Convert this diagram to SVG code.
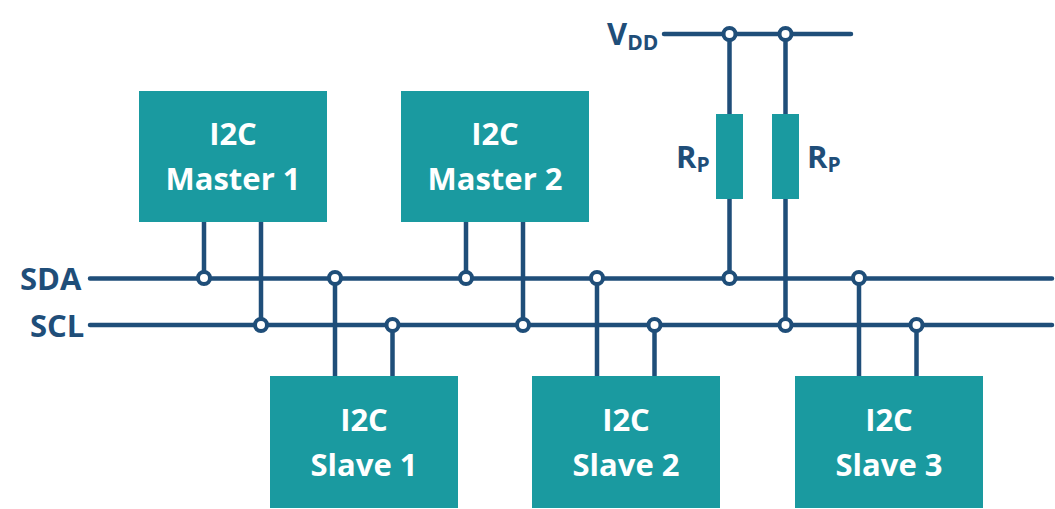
<svg xmlns="http://www.w3.org/2000/svg" width="1055" height="509" viewBox="0 0 1055 509">
<style>
.box{fill:#1a9aa0}
.wire{fill:none;stroke:#1f4e79;stroke-width:4.500;stroke-linecap:round}
.stub{fill:none;stroke:#1f4e79;stroke-width:4.500}
.dot{fill:#fff;stroke:#1f4e79;stroke-width:4}
text{font-family:"Open Sans","Liberation Sans",sans-serif;font-weight:700}
.t{fill:#fff;font-size:31px;text-anchor:middle}
.l{fill:#1f4e79;font-size:31px}
.s{font-size:21px}
</style>
<rect width="1055" height="509" fill="#fff"/>
<g id="connectors">
<path class="wire" d="M664 34H851M90 278.500H1052M90 325H1052"/>
<path class="stub" d="M204 222V278M261 222V325M466 222V278M523 222V325M335 278V376M392.500 325V376M597 278V376M654.500 325V376M859 278V376M916.500 325V376M729.500 34V114M729.500 199V278M785.500 34V114M785.500 199V325"/>
<circle class="dot" cx="729.500" cy="34" r="6"/><circle class="dot" cx="785.500" cy="34" r="6"/>
<circle class="dot" cx="204" cy="278" r="6"/><circle class="dot" cx="335" cy="278" r="6"/><circle class="dot" cx="466" cy="278" r="6"/><circle class="dot" cx="597" cy="278" r="6"/><circle class="dot" cx="729.500" cy="278" r="6"/><circle class="dot" cx="859" cy="278" r="6"/>
<circle class="dot" cx="261" cy="325" r="6"/><circle class="dot" cx="392.500" cy="325" r="6"/><circle class="dot" cx="523" cy="325" r="6"/><circle class="dot" cx="654.500" cy="325" r="6"/><circle class="dot" cx="785.500" cy="325" r="6"/><circle class="dot" cx="916.500" cy="325" r="6"/>
</g>
<g id="master1"><rect class="box" x="139" y="91" width="188" height="131"/><text class="t" x="233" y="145">I2C</text><text class="t" x="233" y="190">Master 1</text></g>
<g id="master2"><rect class="box" x="401" y="91" width="188" height="131"/><text class="t" x="495" y="145">I2C</text><text class="t" x="495" y="190">Master 2</text></g>
<g id="slave1"><rect class="box" x="270" y="376" width="188" height="132"/><text class="t" x="364" y="431">I2C</text><text class="t" x="364" y="476">Slave 1</text></g>
<g id="slave2"><rect class="box" x="532" y="376" width="188" height="132"/><text class="t" x="626" y="431">I2C</text><text class="t" x="626" y="476">Slave 2</text></g>
<g id="slave3"><rect class="box" x="795" y="376" width="188" height="132"/><text class="t" x="889" y="431">I2C</text><text class="t" x="889" y="476">Slave 3</text></g>
<g id="r1"><rect class="box" x="716" y="114" width="27" height="85"/></g>
<g id="r2"><rect class="box" x="772" y="114" width="27" height="85"/></g>
<g id="labels">
<text class="l" x="607" y="45">V<tspan class="s" dy="5">DD</tspan></text>
<text class="l" x="676" y="168">R<tspan class="s" dy="4">P</tspan></text>
<text class="l" x="807" y="168">R<tspan class="s" dy="4">P</tspan></text>
<text class="l" x="20" y="290">SDA</text>
<text class="l" x="30" y="337">SCL</text>
</g>
</svg>
